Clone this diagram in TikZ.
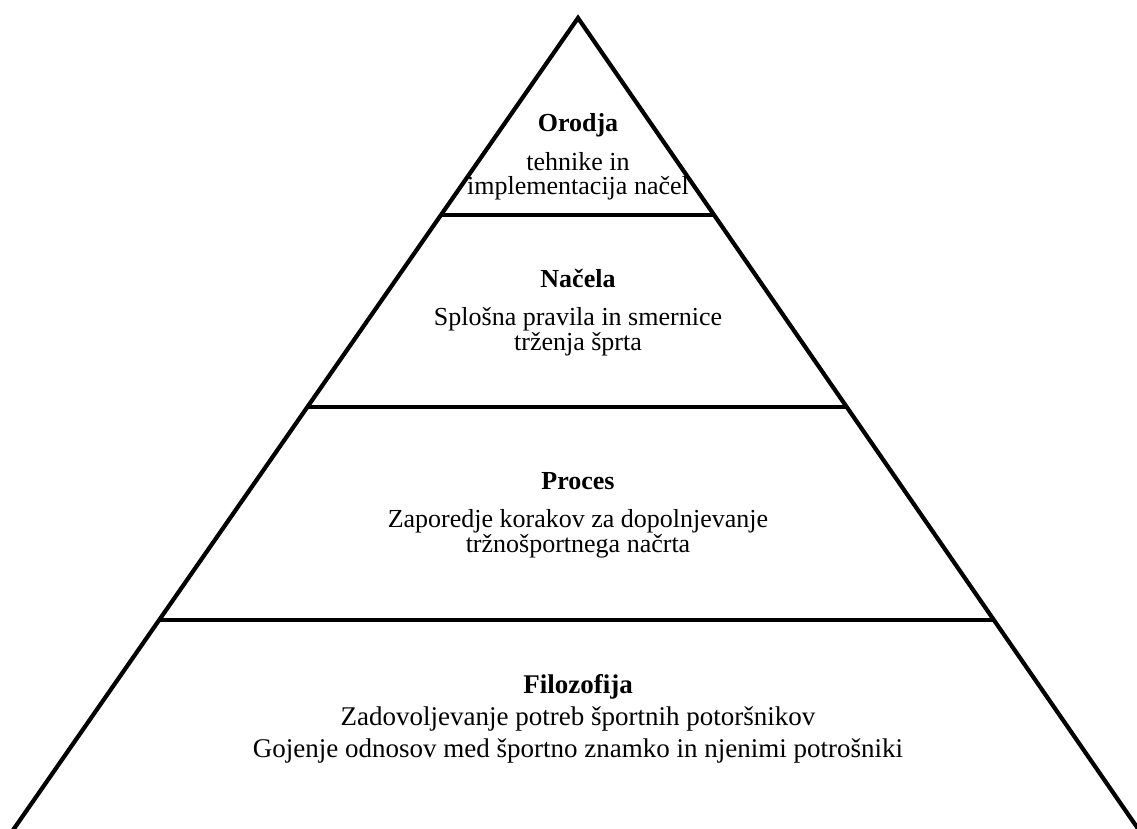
\documentclass[tikz,border=0pt]{standalone}
\usepackage{fontspec}
\setmainfont{Liberation Serif}
\usetikzlibrary{calc}

\begin{document}
\begin{tikzpicture}[x=1pt, y=-1pt,
    edge/.style={line width=4.2pt, black},
    level/.style={line width=4.6pt, black},
    block/.style={align=center, inner sep=0pt, anchor=base}]
    \useasboundingbox (0,0) rectangle (1137,829);
    % pyramid outline
    \coordinate (apex) at (578,18);
    \coordinate (bl) at (11,833);
    \coordinate (br) at (1141,833);
    \draw[edge, line join=miter] (bl) -- (apex) -- (br);
    % level lines
    \draw[level] ($(apex)!0.2417!(bl)$) coordinate (al) -- ($(apex)!0.2417!(br)$) coordinate (ar);
    \draw[level] ($(apex)!0.4773!(bl)$) coordinate (bl2) -- ($(apex)!0.4773!(br)$) coordinate (br2);
    \draw[level] ($(apex)!0.7387!(bl)$) coordinate (cl) -- ($(apex)!0.7387!(br)$) coordinate (cr);
    % texts (anchored at the baseline of the last line)
    \node[block, font=\fontsize{26}{23.5}\selectfont] (orodja) at (578,194)
      {\textbf{Orodja}\\[14pt]tehnike in\\implementacija načel};
    \node[block, font=\fontsize{26}{25}\selectfont] (nacela) at (578,350)
      {\textbf{Načela}\\[13pt]Splošna pravila in smernice\\trženja šprta};
    \node[block, font=\fontsize{26}{25}\selectfont] (proces) at (578,552)
      {\textbf{Proces}\\[13pt]Zaporedje korakov za dopolnjevanje\\tržnošportnega načrta};
    \node[block, font=\fontsize{27}{32}\selectfont] (filozofija) at (578,757)
      {\textbf{Filozofija}\\Zadovoljevanje potreb športnih potoršnikov\\Gojenje odnosov med športno znamko in njenimi potrošniki};
  \end{tikzpicture}
\end{document}
